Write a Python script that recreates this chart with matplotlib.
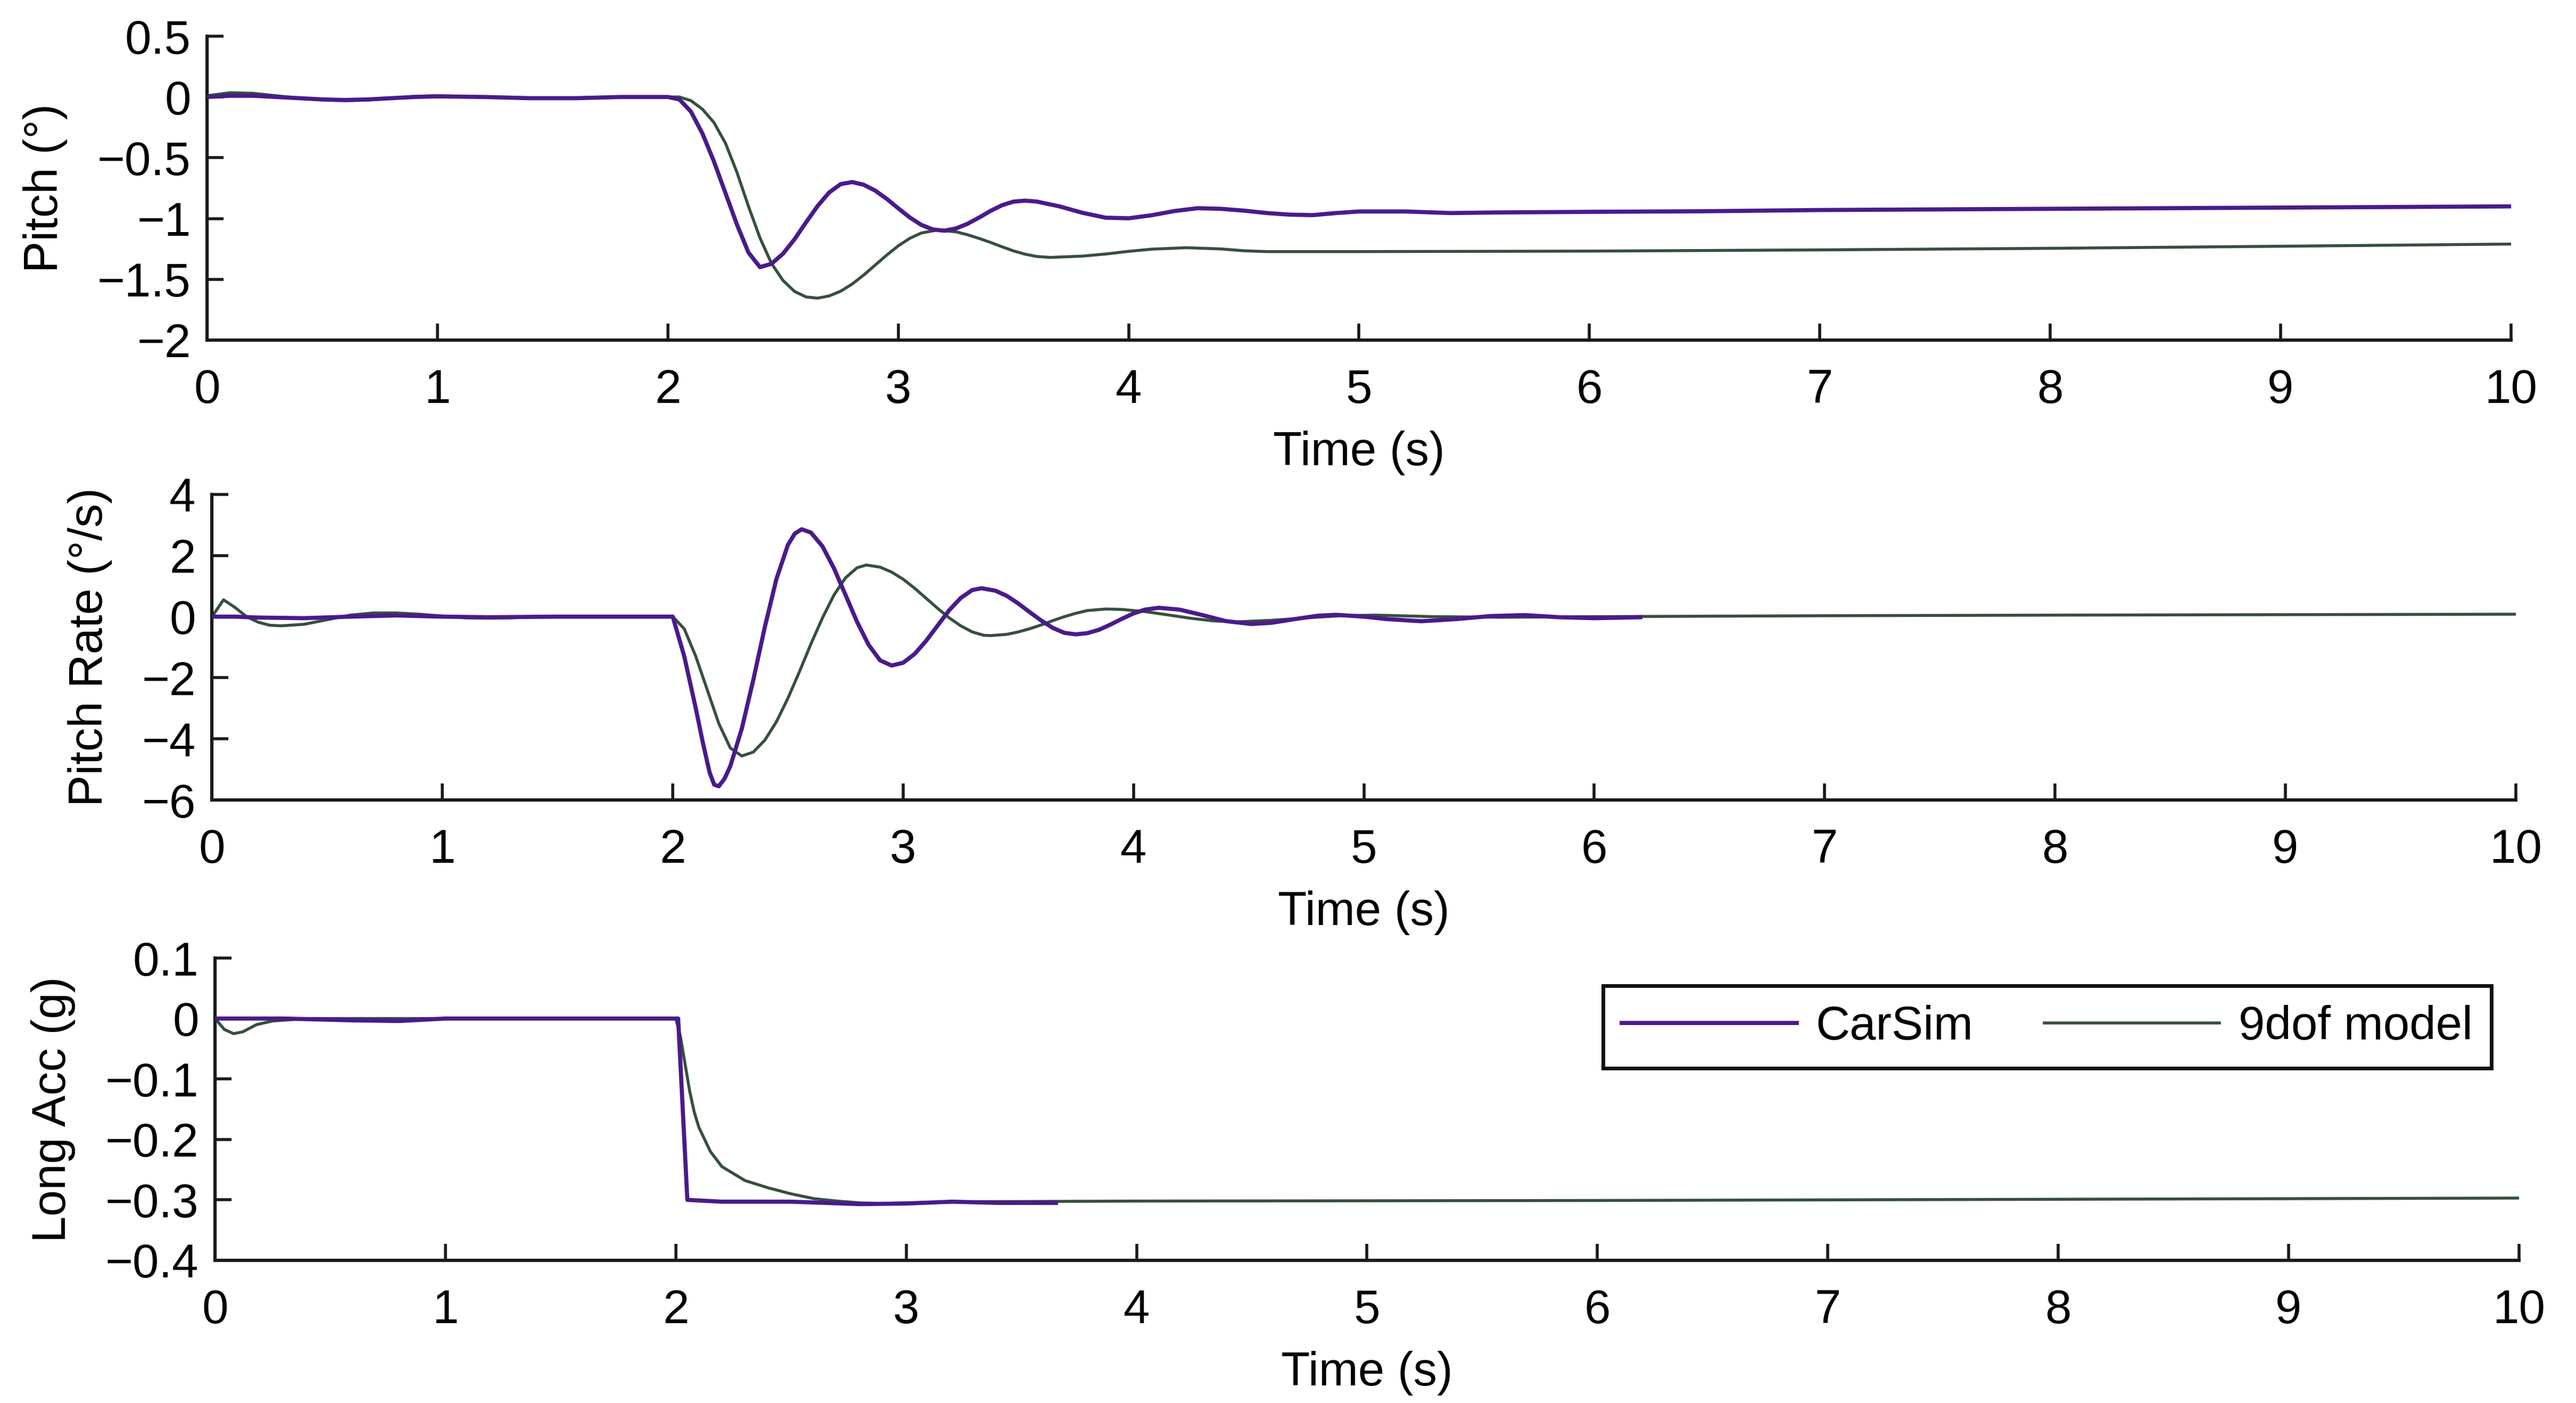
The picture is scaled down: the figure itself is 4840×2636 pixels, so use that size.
import matplotlib
matplotlib.use("Agg")
import matplotlib.pyplot as plt

plt.rcParams['font.family'] = ['Liberation Sans', 'DejaVu Sans']

CARSIM_COLOR = '#4a1a8c'
DOF9_COLOR = '#35503d'

# ---- Pitch (deg) ----
pitch_t_carsim = [0, 0.1, 0.2, 0.3, 0.4, 0.5, 0.6, 0.7, 0.8, 0.9, 1.0, 1.2, 1.4, 1.6, 1.8, 2.0,
                  2.05, 2.1, 2.15, 2.2, 2.25, 2.3, 2.35, 2.4, 2.45, 2.5, 2.55, 2.6, 2.65, 2.7,
                  2.75, 2.8, 2.85, 2.9, 2.95, 3.0, 3.05, 3.1, 3.15, 3.2, 3.25, 3.3, 3.35, 3.4,
                  3.45, 3.5, 3.55, 3.6, 3.7, 3.8, 3.9, 4.0, 4.1, 4.2, 4.3, 4.4, 4.5, 4.6, 4.7,
                  4.8, 4.9, 5.0, 5.2, 5.4, 5.6, 6.0, 6.5, 7.0, 7.5, 8.0, 8.5, 9.0, 9.5, 10.0]
pitch_carsim = [0.0, 0.01, 0.01, 0.0, -0.01, -0.02, -0.025, -0.02, -0.01, 0.0, 0.005, 0.0, -0.01,
                -0.01, 0.0, 0.0,
                -0.02, -0.12, -0.30, -0.53, -0.79, -1.05, -1.28, -1.40, -1.372, -1.289, -1.17,
                -1.031, -0.897, -0.786, -0.717, -0.70, -0.722, -0.77, -0.838, -0.916, -0.991,
                -1.052, -1.09, -1.10, -1.082, -1.044, -0.993, -0.938, -0.891, -0.861, -0.853,
                -0.86, -0.90, -0.953, -0.993, -0.998, -0.973, -0.938, -0.915, -0.92, -0.935,
                -0.955, -0.968, -0.972, -0.955, -0.942, -0.942, -0.955, -0.95, -0.945, -0.94,
                -0.93, -0.925, -0.92, -0.915, -0.91, -0.905, -0.90]

pitch_t_9dof = [0, 0.1, 0.2, 0.3, 0.4, 0.5, 0.6, 0.7, 0.8, 0.9, 1.0, 1.2, 1.4, 1.6, 1.8, 2.0,
                2.05, 2.1, 2.15, 2.2, 2.25, 2.3, 2.35, 2.4, 2.45, 2.5, 2.55, 2.6, 2.65, 2.7,
                2.75, 2.8, 2.85, 2.9, 2.95, 3.0, 3.05, 3.1, 3.17, 3.25, 3.3, 3.35, 3.4, 3.45,
                3.5, 3.55, 3.6, 3.66, 3.8, 3.9, 4.0, 4.1, 4.25, 4.4, 4.5, 4.6, 5.0, 6.0, 7.0,
                8.0, 9.0, 10.0]
pitch_9dof = [0.01, 0.035, 0.03, 0.01, -0.01, -0.025, -0.03, -0.025, -0.01, 0.005, 0.01, 0.0,
              -0.01, -0.01, 0.0, 0.0,
              0.0, -0.03, -0.10, -0.21, -0.38, -0.62, -0.90, -1.16, -1.37, -1.51, -1.60,
              -1.645, -1.655, -1.637, -1.598, -1.539, -1.465, -1.383, -1.301, -1.225, -1.163,
              -1.119, -1.095, -1.109, -1.133, -1.163, -1.196, -1.232, -1.266, -1.293, -1.312,
              -1.32, -1.309, -1.292, -1.27, -1.252, -1.24, -1.25, -1.265, -1.272, -1.272,
              -1.268, -1.258, -1.245, -1.228, -1.21]

# ---- Pitch rate (deg/s) ----
rate_t_carsim = [0, 0.1, 0.2, 0.4, 0.6, 0.8, 1.0, 1.2, 1.5, 2.0,
                 2.05, 2.1, 2.13, 2.16, 2.18, 2.2, 2.225, 2.25, 2.3, 2.35, 2.4, 2.45, 2.5, 2.53,
                 2.56, 2.6, 2.65,
                 2.7, 2.75, 2.8, 2.85, 2.9, 2.95, 3.0, 3.05, 3.1, 3.15, 3.2, 3.25, 3.3, 3.34,
                 3.4, 3.45, 3.5, 3.55, 3.6, 3.65, 3.7, 3.75, 3.8, 3.85, 3.9, 3.95, 4.0, 4.05,
                 4.11, 4.2, 4.3, 4.4, 4.51, 4.6, 4.7, 4.8, 4.88, 5.0, 5.1, 5.25, 5.4, 5.55,
                 5.7, 5.85, 6.0, 6.2]
rate_carsim = [0.0, 0.0, -0.03, -0.05, 0.0, 0.04, 0.0, -0.02, 0.0, 0.0,
               -1.3, -3.0, -4.1, -5.1, -5.5, -5.55, -5.3, -4.89, -3.66, -2.06, -0.33, 1.23,
               2.35, 2.72, 2.86,
               2.75, 2.30, 1.58, 0.71, -0.17, -0.92, -1.43, -1.60, -1.51, -1.22, -0.79, -0.29,
               0.21, 0.61, 0.87, 0.93, 0.85, 0.68, 0.43, 0.145, -0.13, -0.37, -0.53, -0.58,
               -0.54, -0.43, -0.26, -0.07, 0.105, 0.23, 0.29, 0.23, 0.05, -0.145, -0.24, -0.20,
               -0.08, 0.03, 0.06, 0.0, -0.08, -0.15, -0.08, 0.02, 0.05, -0.02, -0.05, -0.02]

rate_t_9dof = [0, 0.05, 0.1, 0.15, 0.2, 0.25, 0.3, 0.4, 0.5, 0.6, 0.7, 0.8, 0.9, 1.0, 1.1, 1.2,
               1.3, 1.4, 1.6, 2.0,
               2.05, 2.1, 2.15, 2.2, 2.25, 2.3, 2.35, 2.4, 2.45, 2.5, 2.55, 2.6, 2.65, 2.7,
               2.75, 2.8, 2.84, 2.9, 2.95, 3.0, 3.05, 3.1, 3.15, 3.2, 3.25, 3.3, 3.35, 3.38,
               3.45, 3.5, 3.55, 3.6, 3.65, 3.7, 3.75, 3.8, 3.88, 3.95, 4.05, 4.15, 4.25, 4.35,
               4.45, 4.6, 4.75, 4.9, 5.05, 5.3, 5.6, 6.0, 7.0, 8.0, 10.0]
rate_9dof = [0.0, 0.55, 0.3, 0.0, -0.18, -0.28, -0.3, -0.25, -0.1, 0.05, 0.12, 0.12, 0.08, 0.02,
             -0.04, -0.05, -0.04, 0.0, 0.0, 0.0,
             -0.4, -1.3, -2.4, -3.5, -4.3, -4.56, -4.43, -4.04, -3.44, -2.67, -1.80, -0.89,
             -0.04, 0.71, 1.27, 1.60, 1.69, 1.62, 1.46, 1.225, 0.93, 0.60, 0.27, -0.04, -0.30,
             -0.50, -0.61, -0.62, -0.58, -0.50, -0.395, -0.27, -0.13, 0.0, 0.11, 0.20, 0.25,
             0.235, 0.165, 0.057, -0.055, -0.14, -0.17, -0.12, -0.04, 0.03, 0.05, 0.0, -0.02,
             0.0, 0.03, 0.05, 0.08]

# ---- Longitudinal acceleration (g) ----
acc_t_carsim = [0, 0.3, 0.6, 0.8, 1.0, 2.0, 2.01, 2.05, 2.2, 2.5, 2.8, 3.0, 3.2, 3.4, 3.65]
acc_carsim = [0.0, 0.0, -0.003, -0.004, 0.0, 0.0, 0.0, -0.300, -0.303, -0.303, -0.307, -0.306,
              -0.303, -0.305, -0.305]

acc_t_9dof = [0, 0.04, 0.08, 0.12, 0.18, 0.25, 0.4, 2.0, 2.02, 2.04, 2.06, 2.08, 2.1, 2.15, 2.2,
              2.3, 2.4, 2.5, 2.6, 2.7, 2.8, 2.9, 3.0, 3.3, 4.0, 6.0, 8.0, 10.0]
acc_9dof = [0.0, -0.018, -0.025, -0.022, -0.01, -0.004, 0.0, 0.0, -0.03, -0.075, -0.12, -0.155,
            -0.18, -0.22, -0.245, -0.268, -0.28, -0.29, -0.298, -0.302, -0.305, -0.306, -0.305,
            -0.303, -0.302, -0.301, -0.299, -0.297]

x_ticks = list(range(0, 11))

panels = [
    dict(t_cs=pitch_t_carsim, cs=pitch_carsim, t_9=pitch_t_9dof, v9=pitch_9dof,
         ylabel='Pitch (°)', ylim=(-2, 0.5),
         yticks=[-2, -1.5, -1, -0.5, 0, 0.5],
         yticklabels=['\u22122', '\u22121.5', '\u22121', '\u22120.5', '0', '0.5'],
         rect=[0.0804, 0.7576, 0.8943, 0.2166]),
    dict(t_cs=rate_t_carsim, cs=rate_carsim, t_9=rate_t_9dof, v9=rate_9dof,
         ylabel='Pitch Rate (°/s)', ylim=(-6, 4),
         yticks=[-6, -4, -2, 0, 2, 4],
         yticklabels=['\u22126', '\u22124', '\u22122', '0', '2', '4'],
         rect=[0.0823, 0.4298, 0.8943, 0.2178]),
    dict(t_cs=acc_t_carsim, cs=acc_carsim, t_9=acc_t_9dof, v9=acc_9dof,
         ylabel='Long Acc (g)', ylim=(-0.4, 0.1),
         yticks=[-0.4, -0.3, -0.2, -0.1, 0, 0.1],
         yticklabels=['\u22120.4', '\u22120.3', '\u22120.2', '\u22120.1', '0', '0.1'],
         rect=[0.0835, 0.1017, 0.8943, 0.2154]),
]

fig = plt.figure(figsize=(24.2, 13.18), dpi=200)

for p in panels:
    ax = fig.add_axes(p['rect'])
    l9, = ax.plot(p['t_9'], p['v9'], color=DOF9_COLOR, linewidth=2.0, label='9dof model', zorder=2)
    lcs, = ax.plot(p['t_cs'], p['cs'], color=CARSIM_COLOR, linewidth=2.8, label='CarSim', zorder=3)

    ax.set_xlim(0, 10)
    ax.set_ylim(*p['ylim'])
    ax.set_xticks(x_ticks)
    ax.set_xticklabels([str(x) for x in x_ticks])
    ax.set_yticks(p['yticks'])
    ax.set_yticklabels(p['yticklabels'])

    ax.spines['top'].set_visible(False)
    ax.spines['right'].set_visible(False)
    for side in ('left', 'bottom'):
        ax.spines[side].set_linewidth(2.2)
        ax.spines[side].set_color('#1a1a1a')

    ax.tick_params(direction='in', length=11, width=2.0, labelsize=32, color='#1a1a1a')
    ax.tick_params(axis='x', pad=19)
    ax.tick_params(axis='y', pad=11)

    ax.set_xlabel('Time (s)', fontsize=32, labelpad=12)
    ax.set_ylabel(p['ylabel'], fontsize=32, labelpad=20)

# legend in the acceleration panel
leg = ax.legend([lcs, l9], ['CarSim', '9dof model'], loc='upper left',
                bbox_to_anchor=(0.6024, 0.62, 0.3857, 0.2885), mode='expand',
                borderaxespad=0, ncol=2, fontsize=32, handlelength=3.7,
                handletextpad=0.4, columnspacing=0.8, borderpad=0.4,
                fancybox=False, framealpha=1)
leg.get_frame().set_edgecolor('#111111')
leg.get_frame().set_linewidth(2.5)

fig.savefig('out.png', dpi=200)
